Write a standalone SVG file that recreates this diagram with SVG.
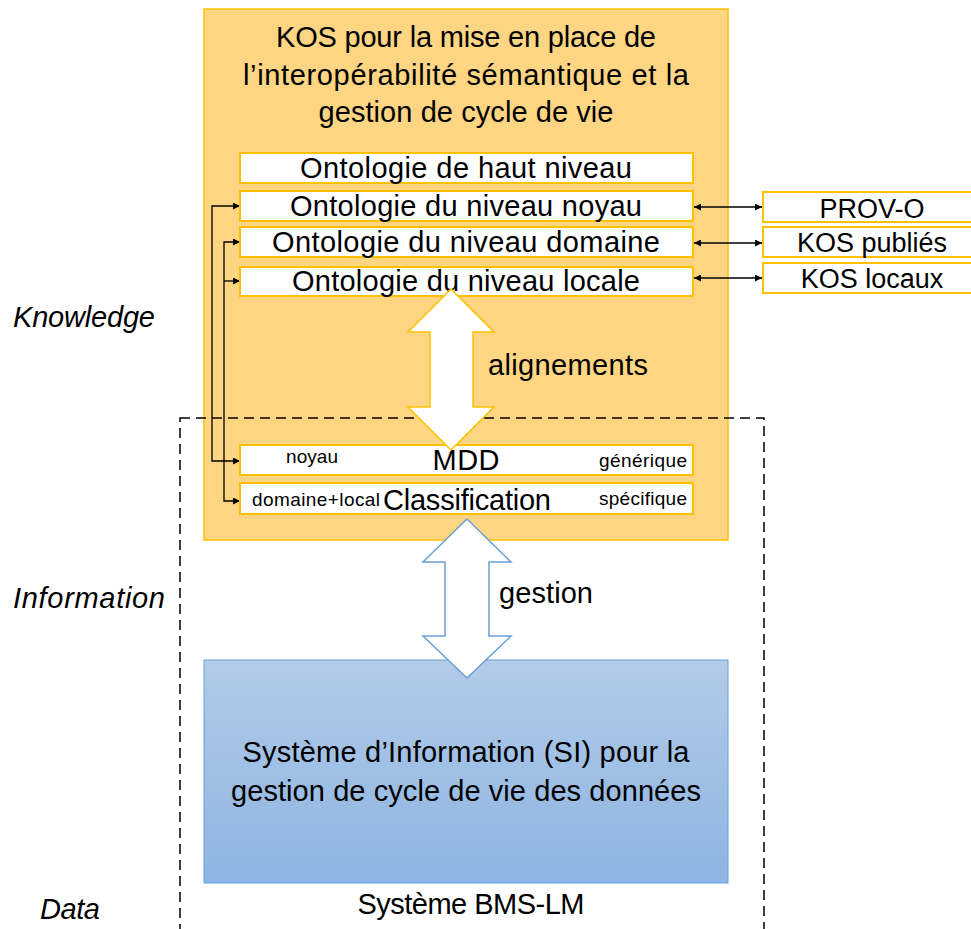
<svg xmlns="http://www.w3.org/2000/svg" width="971" height="929" viewBox="0 0 971 929">
<style>
  text { font-family: "Liberation Sans", Arial, sans-serif; fill: #000; }
  .big { font-size: 29px; text-anchor: middle; }
  .ext { font-size: 27px; text-anchor: middle; }
  .small { font-size: 19px; }
  .lbl { font-size: 29px; font-style: italic; }
  .ibox { fill: #fff; stroke: #FFC000; stroke-width: 2; }
  .conn { fill: none; stroke: #000; stroke-width: 1.3; }
</style>
<defs>
  <marker id="ah" viewBox="0 0 10 10" refX="10" refY="5" markerWidth="7" markerHeight="7" markerUnits="userSpaceOnUse" orient="auto-start-reverse">
    <path d="M0,0 L10,5 L0,10 Z" fill="#000"/>
  </marker>
  <linearGradient id="blueGrad" x1="0" y1="0" x2="0" y2="1">
    <stop offset="0" stop-color="#B2CBE8"/>
    <stop offset="1" stop-color="#8DB4E2"/>
  </linearGradient>
</defs>

<!-- Knowledge container -->
<g id="kos">
  <rect x="204" y="9" width="524" height="531" fill="#FED582" stroke="#FFC000" stroke-width="1.5"/>
  <text class="big" x="466" y="47" textLength="380">KOS pour la mise en place de</text>
  <text class="big" x="466" y="85" textLength="446">l’interopérabilité sémantique et la</text>
  <text class="big" x="466" y="122" textLength="295">gestion de cycle de vie</text>
</g>

<!-- Information dashed frame -->
<g id="information-frame">
  <rect x="180" y="418" width="584" height="530" fill="none" stroke="#000" stroke-width="1.5" stroke-dasharray="10,6"/>
</g>

<!-- Connectors -->
<g id="connectors">
  <path class="conn" d="M240,206 H212 V461 H240" marker-start="url(#ah)" marker-end="url(#ah)"/>
  <path class="conn" d="M240,242 H224 V501 H240" marker-start="url(#ah)" marker-end="url(#ah)"/>
  <path class="conn" d="M224,281 H240" marker-end="url(#ah)"/>
  <path class="conn" d="M694,207 H762" stroke="#333" marker-start="url(#ah)" marker-end="url(#ah)"/>
  <path class="conn" d="M694,243 H762" stroke="#333" marker-start="url(#ah)" marker-end="url(#ah)"/>
  <path class="conn" d="M694,278 H762" stroke="#333" marker-start="url(#ah)" marker-end="url(#ah)"/>
</g>

<g id="onto-haut">
  <rect class="ibox" x="240" y="153" width="453" height="30"/>
  <text class="big" x="466" y="178" textLength="332">Ontologie de haut niveau</text>
</g>
<g id="onto-noyau">
  <rect class="ibox" x="240" y="191" width="453" height="30"/>
  <text class="big" x="466" y="216" textLength="352">Ontologie du niveau noyau</text>
</g>
<g id="onto-domaine">
  <rect class="ibox" x="240" y="227" width="453" height="30"/>
  <text class="big" x="466" y="252" textLength="388">Ontologie du niveau domaine</text>
</g>
<g id="onto-locale">
  <rect class="ibox" x="240" y="267" width="453" height="29"/>
  <text class="big" x="466" y="291" textLength="348">Ontologie du niveau locale</text>
</g>

<g id="prov-o">
  <rect class="ibox" x="763" y="192" width="220" height="30"/>
  <text class="ext" x="872" y="218">PROV-O</text>
</g>
<g id="kos-publies">
  <rect class="ibox" x="763" y="227" width="220" height="30"/>
  <text class="ext" x="872" y="252">KOS publiés</text>
</g>
<g id="kos-locaux">
  <rect class="ibox" x="763" y="263" width="220" height="30"/>
  <text class="ext" x="872" y="288">KOS locaux</text>
</g>

<g id="mdd">
  <rect class="ibox" x="240" y="445" width="453" height="30"/>
  <text class="big" x="466" y="470" textLength="67">MDD</text>
  <text class="small" x="286" y="463" textLength="52">noyau</text>
  <text class="small" x="599" y="467" textLength="88">générique</text>
</g>
<g id="classification">
  <rect class="ibox" x="240" y="483" width="453" height="31"/>
  <text class="big" x="467" y="510" textLength="168">Classification</text>
  <text class="small" x="252" y="506" textLength="128">domaine+local</text>
  <text class="small" x="599" y="505" textLength="88">spécifique</text>
</g>

<g id="si">
  <rect x="204" y="660" width="524" height="223" fill="url(#blueGrad)" stroke="#6A9FD6" stroke-width="1"/>
  <text class="big" x="466" y="762" textLength="447">Système d’Information (SI) pour la</text>
  <text class="big" x="466" y="801" textLength="470">gestion de cycle de vie des données</text>
</g>

<!-- Big double arrows -->
<g id="alignements">
  <polygon points="451,289 494,332 473,332 473,407 494,407 451,450 408,407 430,407 430,332 408,332" fill="#fff" stroke="#FFC000" stroke-width="1.5"/>
  <text class="big" x="488" y="375" style="text-anchor:start" textLength="160">alignements</text>
</g>
<g id="gestion">
  <polygon points="467,519 511,562 489,562 489,636 511,636 467,678 423,636 445,636 445,562 423,562" fill="#fff" stroke="#6A9FD6" stroke-width="1.5"/>
  <text class="big" x="499" y="603" style="text-anchor:start" textLength="94">gestion</text>
</g>

<g id="labels">
  <text class="big" x="471" y="914" textLength="227">Système BMS-LM</text>
  <text class="lbl" x="13" y="327" textLength="142">Knowledge</text>
  <text class="lbl" x="13" y="608" textLength="152">Information</text>
  <text class="lbl" x="40" y="919" textLength="60">Data</text>
</g>
</svg>
